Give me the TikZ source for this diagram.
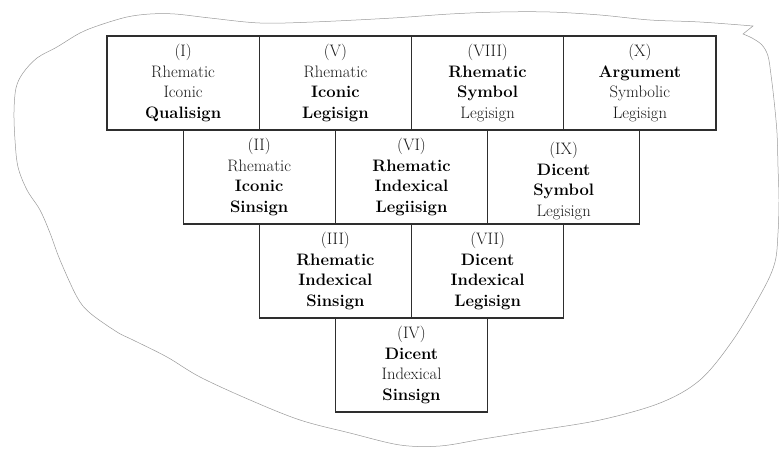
\documentclass[tikz,border=0pt]{standalone}
\begin{document}
\begin{tikzpicture}[x=1pt,y=-1pt,
  signbox/.style={draw=black!82, line width=1.1pt, rectangle, minimum width=152.25pt,
    minimum height=94pt, inner sep=0pt, align=center, text=black!90,
    font=\fontsize{16.6}{20.4}\selectfont},
  signtext/.style={align=center, text=black!90, inner sep=0pt,
    font=\fontsize{16.6}{20.4}\selectfont},
  blob/.style={draw=black!40, line width=0.5pt}]
\useasboundingbox (0,0) rectangle (779,450);
% outline
\draw[blob] plot[smooth, tension=0.55] coordinates {
 (743,34) (752,38) (762,45) (768,56) (771,75) (774,100) (777,133) (778,167) (779,200)
 (778,233) (775,262) (763,290) (733,340) (700,380) (660,403) (600,420) (533,431)
 (483,439) (440,446) (400,445) (350,433) (300,420) (250,400) (200,377) (167,357)
 (133,340) (117,332) (90,313) (77,297) (60,260) (50,233) (40,210) (27,190) (18,167)
 (15,140) (14,112) (16,88) (23,73) (37,58) (57,47) (80,33) (100,25) (127,17) (150,14)
 (175,14) (210,18) (260,23) (313,22) (393,18) (450,14) (500,12) (550,12) (600,15)
 (650,20) (700,22) (753,26)} -- cycle;
\newcommand{\bb}[1]{{\bfseries\color{black}#1}}
% row 1
\node[signbox] (I)    at (183.1,83) {(I)\\Rhematic\\Iconic\\\bb{Qualisign}};
\node[signbox] (V)    at (335.4,83) {(V)\\Rhematic\\\bb{Iconic}\\\bb{Legisign}};
\node[signbox] (VIII) at (487.6,83) {(VIII)\\\bb{Rhematic}\\\bb{Symbol}\\Legisign};
\node[signbox] (X)    at (639.9,83) {(X)\\\bb{Argument}\\Symbolic\\Legisign};
% row 2
\node[signbox] (II)   at (259.2,177) {(II)\\Rhematic\\\bb{Iconic}\\\bb{Sinsign}};
\node[signbox] (VI)   at (411.5,177) {(VI)\\\bb{Rhematic}\\\bb{Indexical}\\\bb{Legiisign}};
\node[signbox] (IX)   at (563.7,177) {};
\node[signtext] (IXt) at ([yshift=-4pt]IX.center) {(IX)\\\bb{Dicent}\\\bb{Symbol}\\Legisign};
% row 3
\node[signbox] (III)  at (335.4,271) {(III)\\\bb{Rhematic}\\\bb{Indexical}\\\bb{Sinsign}};
\node[signbox] (VII)  at (487.6,271) {(VII)\\\bb{Dicent}\\\bb{Indexical}\\\bb{Legisign}};
% row 4
\node[signbox] (IV)   at (411.5,365) {(IV)\\\bb{Dicent}\\Indexical\\\bb{Sinsign}};
\end{tikzpicture}
\end{document}
